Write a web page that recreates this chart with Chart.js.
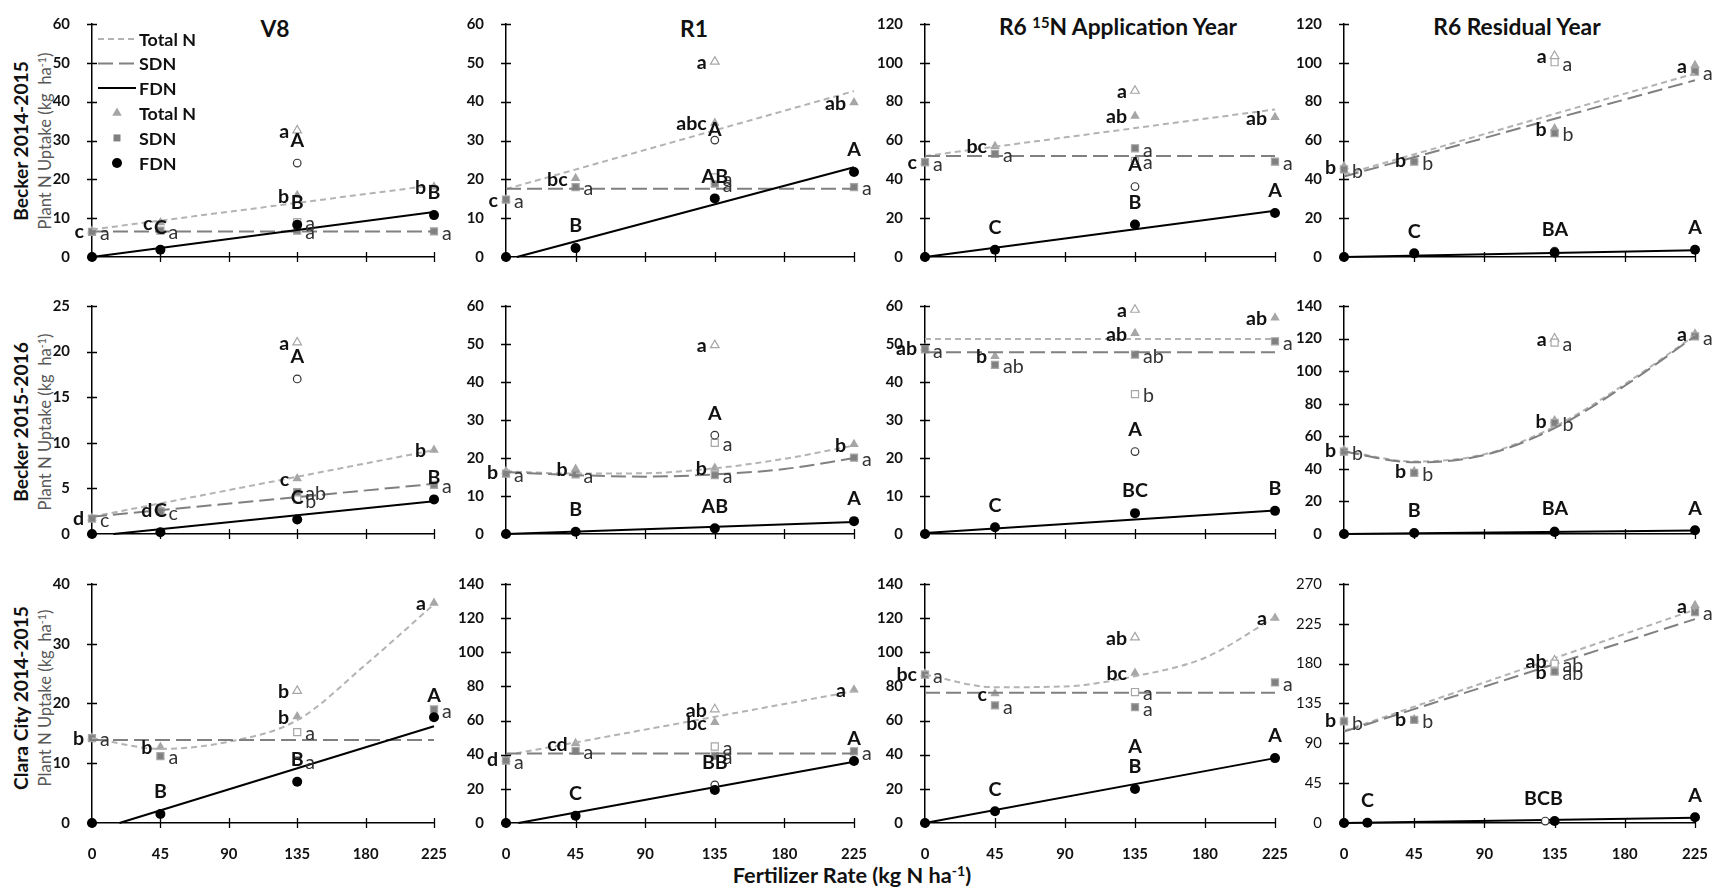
<!DOCTYPE html>
<html>
<head>
<meta charset="utf-8">
<title>Plant N uptake</title>
<script src="https://cdn.jsdelivr.net/npm/chart.js@4.4.1/dist/chart.umd.min.js"></script>
<style>
  body { margin: 0; background: #fff; font-family: Lato, "Open Sans", sans-serif; color: #111; }
  #page { position: relative; width: 1718px; height: 890px; overflow: hidden; }
  #page canvas { position: absolute; }
  .txt { position: absolute; white-space: nowrap; transform: translate(-50%, -50%); line-height: 1; }
  .title { font-weight: 700; font-size: 20px; }
  .row { font-weight: 700; font-size: 20px; transform: translate(-50%, -50%) rotate(-90deg); }
  .unit { font-size: 17px; color: #595959; transform: translate(-50%, -50%) rotate(-90deg); }
  .xtitle { font-weight: 700; font-size: 21px; }
  .sup { font-size: 0.65em; position: relative; top: -0.5em; }
</style>
</head>
<body>
<div id="page">
  <div class="txt title" style="left:275px;top:28px">V8</div>
  <div class="txt title" style="left:694px;top:28px">R1</div>
  <div class="txt title" style="left:1118px;top:26px">R6 <span class="sup">15</span>N Application Year</div>
  <div class="txt title" style="left:1517px;top:26px">R6 Residual Year</div>

  <div class="txt row" style="left:21px;top:141px">Becker 2014-2015</div>
  <div class="txt unit" style="left:45px;top:141px">Plant N Uptake (kg&nbsp; ha<span class="sup">-1</span>)</div>
  <div class="txt row" style="left:21px;top:422px">Becker 2015-2016</div>
  <div class="txt unit" style="left:45px;top:422px">Plant N Uptake (kg&nbsp; ha<span class="sup">-1</span>)</div>
  <div class="txt row" style="left:21px;top:698px">Clara City 2014-2015</div>
  <div class="txt unit" style="left:45px;top:698px">Plant N Uptake (kg&nbsp; ha<span class="sup">-1</span>)</div>

  <div class="txt xtitle" style="left:852px;top:876px">Fertilizer Rate (kg N ha<span class="sup">-1</span>)</div>
</div>

<script>
/* fertilizer rates (kg N/ha) */
const rates = [0, 45, 135, 225];
const xTickStep = 45;

/* ---- Becker 2014-2015 ---- */
// V8
const b1V8Total = [6.8, 8.9, 15.9, 18.1];
const b1V8Sdn = [6.5, 6.8, 6.8, 6.6];
const b1V8Fdn = [0, 1.9, 8.3, 10.8];
const b1V8Open = [32.6, 9.0, 24.2];          // open triangle, open square, open circle at 135
const b1V8TotalTrend = [[0, 7.1], [225, 18.5]];
const b1V8SdnTrend = [[0, 6.6], [225, 6.6]];
const b1V8FdnTrend = [[0, 0], [225, 11.6]];
const b1V8Letters = [['c', 'c', 'b', 'b'], ['a', 'a', 'a', 'a'], ['', 'C', 'B', 'B'], ['a', 'a', 'A']];
// R1
const b1R1Total = [14.8, 20.3, 34.5, 39.8];
const b1R1Sdn = [14.8, 18.0, 18.9, 18.0];
const b1R1Fdn = [0, 2.3, 15.1, 21.9];
const b1R1Open = [50.3, 20.5, 30.1];
const b1R1TotalTrend = [[0, 17.5], [225, 42.7]];
const b1R1SdnTrend = [[0, 17.6], [225, 17.6]];
const b1R1FdnTrend = [[7, 0], [225, 23.1]];
const b1R1Letters = [['c', 'bc', 'abc', 'ab'], ['a', 'a', 'a', 'a'], ['', 'B', 'AB', 'A'], ['a', 'a', 'A']];
// R6 application year
const b1R6Total = [49, 57.1, 72.6, 72.0];
const b1R6Sdn = [48.8, 53.1, 56.0, 49.1];
const b1R6Fdn = [0, 3.8, 16.8, 22.7];
const b1R6Open = [85.6, 49.5, 36.3];
const b1R6TotalTrend = [[0, 52], [225, 76]];
const b1R6SdnTrend = [[0, 52], [225, 52]];
const b1R6FdnTrend = [[0, 0], [225, 23.8]];
const b1R6Letters = [['c', 'bc', 'ab', 'ab'], ['a', 'a', 'a', 'a'], ['', 'C', 'B', 'A'], ['a', 'a', 'A']];
// R6 residual year
const b1ResTotal = [46.7, 50.2, 66.2, 98.7];
const b1ResSdn = [45.1, 49.1, 63.8, 95.5];
const b1ResFdn = [0, 1.9, 2.2, 3.8];
const b1ResOpen = [103.5, 100.3, 3.0];
const b1ResTotalTrend = [[0, 42.5], [225, 94.5]];
const b1ResSdnTrend = [[0, 41.5], [225, 91]];
const b1ResFdnTrend = [[0, 0], [225, 3.5]];
const b1ResLetters = [['b', 'b', 'b', 'a'], ['b', 'b', 'b', 'a'], ['', 'C', 'A', 'A'], ['a', 'a', 'B']];

/* ---- Becker 2015-2016 ---- */
const b2V8Total = [1.8, 2.7, 6.1, 9.2];
const b2V8Sdn = [1.7, 2.5, 4.6, 5.4];
const b2V8Fdn = [0, 0.2, 1.6, 3.8];
const b2V8Open = [21.0, 3.8, 17.0];
const b2V8TotalTrend = [[0, 1.9], [225, 9.2]];
const b2V8SdnTrend = [[0, 1.9], [225, 5.5]];
const b2V8FdnTrend = [[14, 0], [225, 3.6]];
const b2V8Letters = [['d', 'd', 'c', 'b'], ['c', 'c', 'ab', 'a'], ['', 'C', 'C', 'B'], ['a', 'b', 'A']];

const b2R1Total = [16.5, 17.1, 17.4, 23.6];
const b2R1Sdn = [15.9, 15.7, 15.5, 20.1];
const b2R1Fdn = [0, 0.6, 1.5, 3.4];
const b2R1Open = [49.7, 24.0, 26.0];
const b2R1TotalTrend = [[0, 16.5], [45, 15.9], [90, 16.0], [135, 17.3], [180, 19.8], [225, 23.3]];
const b2R1SdnTrend = [[0, 16.3], [45, 15.5], [90, 15.1], [135, 15.7], [180, 17.1], [225, 20.0]];
const b2R1FdnTrend = [[0, 0], [225, 3.2]];
const b2R1Letters = [['b', 'b', 'b', 'b'], ['a', 'a', 'a', 'a'], ['', 'B', 'AB', 'A'], ['a', 'a', 'A']];

const b2R6Total = [49, 46.8, 52.8, 56.9];
const b2R6Sdn = [48.6, 44.5, 47.2, 50.7];
const b2R6Fdn = [0, 1.8, 5.5, 6.1];
const b2R6Open = [59.0, 36.8, 21.7];
const b2R6TotalTrend = [[0, 51.3], [225, 51.3]];
const b2R6SdnTrend = [[0, 47.8], [225, 47.8]];
const b2R6FdnTrend = [[0, 0.3], [225, 6.2]];
const b2R6Letters = [['ab', 'b', 'ab', 'ab'], ['a', 'ab', 'ab', 'a'], ['', 'C', 'BC', 'B'], ['a', 'b', 'A']];

const b2ResTotal = [51.6, 38.6, 69.7, 123];
const b2ResSdn = [50.6, 37.6, 68.2, 121.3];
const b2ResFdn = [0, 0.6, 1.3, 2.3];
const b2ResOpen = [120, 117.5, 1.9];
const b2ResTotalTrend = [[0, 51], [45, 44.5], [90, 49], [135, 66], [180, 92], [225, 122]];
const b2ResSdnTrend = [[0, 50.6], [45, 44], [90, 48.5], [135, 65], [180, 91], [225, 121.5]];
const b2ResFdnTrend = [[0, 0], [225, 2.2]];
const b2ResLetters = [['b', 'b', 'b', 'a'], ['b', 'b', 'b', 'a'], ['', 'B', 'A', 'A'], ['a', 'a', 'B']];

/* ---- Clara City 2014-2015 ---- */
const ccV8Total = [14.3, 12.7, 17.8, 36.8];
const ccV8Sdn = [14.2, 11.2, 10.5, 19.0];
const ccV8Fdn = [0, 1.5, 6.9, 17.7];
const ccV8Open = [22.1, 15.2, 10.3];
const ccV8TotalTrend = [[0, 14.2], [45, 12.4], [90, 13.6], [135, 17.2], [180, 26.5], [225, 36.6]];
const ccV8SdnTrend = [[0, 13.9], [225, 13.9]];
const ccV8FdnTrend = [[18, 0], [225, 16.2]];
const ccV8Letters = [['b', 'b', 'b', 'a'], ['a', 'a', 'a', 'a'], ['', 'B', 'B', 'A'], ['b', 'a', '']];

const ccR1Total = [37.5, 46.7, 59.0, 78.1];
const ccR1Sdn = [36.5, 42.2, 39.3, 42.0];
const ccR1Fdn = [0, 4.2, 19.3, 36.3];
const ccR1Open = [66.6, 44.8, 22.3];
const ccR1TotalTrend = [[0, 39.7], [225, 77.2]];
const ccR1SdnTrend = [[0, 40.7], [225, 40.7]];
const ccR1FdnTrend = [[8, 0], [225, 35.9]];
const ccR1Letters = [['d', 'cd', 'bc', 'a'], ['a', 'a', 'a', 'a'], ['', 'C', 'B', 'A'], ['ab', 'a', 'B']];

const ccR6Total = [87.5, 75.8, 87.9, 120.1];
const ccR6Sdn = [86.9, 68.9, 67.8, 82.3];
const ccR6Fdn = [0, 6.9, 19.9, 38.0];
const ccR6Open = [108.7, 76.7, 32.0];
const ccR6TotalTrend = [[0, 86.9], [45, 79.5], [90, 80], [135, 86], [180, 96.8], [225, 120.5]];
const ccR6SdnTrend = [[0, 76.3], [225, 76.3]];
const ccR6FdnTrend = [[0, 0], [225, 38]];
const ccR6Letters = [['bc', 'c', 'bc', 'a'], ['a', 'a', 'a', 'a'], ['', 'C', 'B', 'A'], ['ab', 'a', 'A']];

const ccResTotal = [116.6, 117.3, 171, 245.8];
const ccResSdn = [114.8, 116.6, 171, 238.3];
const ccResFdnX = [0, 15, 135, 225];
const ccResFdn = [0, 0.3, 2.2, 6.5];
const ccResOpenX = [135, 135, 129];
const ccResOpen = [183.5, 180, 2.2];
const ccResTotalTrend = [[0, 104], [225, 241]];
const ccResSdnTrend = [[0, 103.2], [225, 230.3]];
const ccResFdnTrend = [[0, 0], [225, 5.8]];
const ccResLetters = [['b', 'b', 'b', 'a'], ['b', 'b', 'ab', 'a'], ['', 'C', 'B', 'A'], ['ab', 'ab', 'BC']];

/* panel setup */
const panels = [
  { row: 0, col: 0, yMax: 60, step: 10, total: b1V8Total, sdn: b1V8Sdn, fdn: b1V8Fdn, open: b1V8Open,
    totalTrend: b1V8TotalTrend, sdnTrend: b1V8SdnTrend, fdnTrend: b1V8FdnTrend, letters: b1V8Letters, legend: true },
  { row: 0, col: 1, yMax: 60, step: 10, total: b1R1Total, sdn: b1R1Sdn, fdn: b1R1Fdn, open: b1R1Open,
    totalTrend: b1R1TotalTrend, sdnTrend: b1R1SdnTrend, fdnTrend: b1R1FdnTrend, letters: b1R1Letters, openCircDy: 10 },
  { row: 0, col: 2, yMax: 120, step: 20, total: b1R6Total, sdn: b1R6Sdn, fdn: b1R6Fdn, open: b1R6Open,
    totalTrend: b1R6TotalTrend, sdnTrend: b1R6SdnTrend, fdnTrend: b1R6FdnTrend, letters: b1R6Letters },
  { row: 0, col: 3, yMax: 120, step: 20, total: b1ResTotal, sdn: b1ResSdn, fdn: b1ResFdn, open: b1ResOpen,
    totalTrend: b1ResTotalTrend, sdnTrend: b1ResSdnTrend, fdnTrend: b1ResFdnTrend, letters: b1ResLetters },

  { row: 1, col: 0, yMax: 25, step: 5, total: b2V8Total, sdn: b2V8Sdn, fdn: b2V8Fdn, open: b2V8Open,
    totalTrend: b2V8TotalTrend, sdnTrend: b2V8SdnTrend, fdnTrend: b2V8FdnTrend, letters: b2V8Letters },
  { row: 1, col: 1, yMax: 60, step: 10, total: b2R1Total, sdn: b2R1Sdn, fdn: b2R1Fdn, open: b2R1Open,
    totalTrend: b2R1TotalTrend, sdnTrend: b2R1SdnTrend, fdnTrend: b2R1FdnTrend, letters: b2R1Letters },
  { row: 1, col: 2, yMax: 60, step: 10, total: b2R6Total, sdn: b2R6Sdn, fdn: b2R6Fdn, open: b2R6Open,
    totalTrend: b2R6TotalTrend, sdnTrend: b2R6SdnTrend, fdnTrend: b2R6FdnTrend, letters: b2R6Letters },
  { row: 1, col: 3, yMax: 140, step: 20, total: b2ResTotal, sdn: b2ResSdn, fdn: b2ResFdn, open: b2ResOpen,
    totalTrend: b2ResTotalTrend, sdnTrend: b2ResSdnTrend, fdnTrend: b2ResFdnTrend, letters: b2ResLetters },

  { row: 2, col: 0, yMax: 40, step: 10, total: ccV8Total, sdn: ccV8Sdn, fdn: ccV8Fdn, open: ccV8Open,
    totalTrend: ccV8TotalTrend, sdnTrend: ccV8SdnTrend, fdnTrend: ccV8FdnTrend, letters: ccV8Letters },
  { row: 2, col: 1, yMax: 140, step: 20, total: ccR1Total, sdn: ccR1Sdn, fdn: ccR1Fdn, open: ccR1Open,
    totalTrend: ccR1TotalTrend, sdnTrend: ccR1SdnTrend, fdnTrend: ccR1FdnTrend, letters: ccR1Letters },
  { row: 2, col: 2, yMax: 140, step: 20, total: ccR6Total, sdn: ccR6Sdn, fdn: ccR6Fdn, open: ccR6Open,
    totalTrend: ccR6TotalTrend, sdnTrend: ccR6SdnTrend, fdnTrend: ccR6FdnTrend, letters: ccR6Letters },
  { row: 2, col: 3, yMax: 270, step: 45, total: ccResTotal, sdn: ccResSdn, fdn: ccResFdn, fdnX: ccResFdnX,
    open: ccResOpen, openX: ccResOpenX, totalTrend: ccResTotalTrend, sdnTrend: ccResSdnTrend,
    fdnTrend: ccResFdnTrend, letters: ccResLetters, yThin: true }
];

// plot-area edges in page pixels
const colLeft = [92, 506, 925, 1344];
const colRight = [434, 854, 1275, 1695];
const rowTop = [15, 297, 575];
const rowBottom = [266, 543, 823];

const FONT = 'Lato, "Open Sans", sans-serif';
const page = document.getElementById('page');

// size fonts so the text runs as wide as in the original figure
const mctx = document.createElement('canvas').getContext('2d');
function fitSize(text, weight, target) {
  mctx.font = `${weight} 100px ${FONT}`;
  return Math.round(1000 * target / mctx.measureText(text).width) / 10;
}
const TITLE_PX = fitSize('R6 Residual Year', 'bold', 168);
const ROW_PX = fitSize('Becker 2014-2015', 'bold', 160);
const UNIT_PX = fitSize('Plant N Uptake (kg  ha-1)', 'normal', 182);
const XTITLE_PX = fitSize('Fertilizer Rate (kg N ha-1)', 'bold', 246);
const LEGEND_PX = fitSize('Total N', 'bold', 57);
const LETTER_PX = fitSize('abc', 'bold', 30.5);
const TICK_PX = fitSize('120', 'bold', 26);

document.querySelectorAll('.title').forEach(el => { el.style.fontSize = TITLE_PX + 'px'; });
document.querySelectorAll('.row').forEach(el => { el.style.fontSize = ROW_PX + 'px'; });
document.querySelectorAll('.unit').forEach(el => { el.style.fontSize = UNIT_PX + 'px'; });
document.querySelector('.xtitle').style.fontSize = XTITLE_PX + 'px';

const pts = (xs, ys) => ys.map((v, i) => ({ x: xs[i], y: v }));
const pairs = t => t.map(([x, y]) => ({ x, y }));

// cross tick marks like the original
const tickMarks = {
  id: 'tickMarks',
  afterDatasetsDraw(chart) {
    const { ctx, chartArea: a, scales: { x, y } } = chart;
    ctx.save();
    ctx.strokeStyle = '#000';
    ctx.lineWidth = 1.3;
    ctx.beginPath();
    y.ticks.forEach(t => {
      const py = Math.round(y.getPixelForValue(t.value)) + 0.5;
      ctx.moveTo(a.left - 5, py);
      ctx.lineTo(a.left + 5, py);
    });
    x.ticks.forEach(t => {
      const px = Math.round(x.getPixelForValue(t.value)) + 0.5;
      ctx.moveTo(px, a.bottom - 5);
      ctx.lineTo(px, a.bottom + 5);
    });
    ctx.stroke();
    ctx.restore();
  }
};

function letterPlugin(p) {
  return {
    id: 'letters',
    afterDraw(chart) {
      const { ctx, scales: { x, y } } = chart;
      const [tl, sl, fl, ol] = p.letters;
      const fx = p.fdnX || rates;
      const ox = p.openX || [135, 135, 135];
      const bold = `bold ${LETTER_PX}px ${FONT}`;
      const reg = `${LETTER_PX}px ${FONT}`;
      ctx.save();
      ctx.textBaseline = 'middle';

      const leftOf = (txt, xv, yv) => {
        ctx.font = bold; ctx.fillStyle = '#111'; ctx.textAlign = 'right';
        ctx.fillText(txt, x.getPixelForValue(xv) - 8, y.getPixelForValue(yv) + 1);
      };
      const rightOf = (txt, xv, yv) => {
        ctx.font = reg; ctx.fillStyle = '#333'; ctx.textAlign = 'left';
        ctx.fillText(txt, x.getPixelForValue(xv) + 8, y.getPixelForValue(yv) + 2);
      };

      rates.forEach((r, i) => {
        if (tl[i]) leftOf(tl[i], r, p.total[i]);
        if (sl[i]) rightOf(sl[i], r, p.sdn[i]);
      });
      if (ol[0]) leftOf(ol[0], ox[0], p.open[0]);
      if (ol[1]) rightOf(ol[1], ox[1], p.open[1]);

      // FDN letters sit above the circles
      ctx.font = bold;
      ctx.fillStyle = '#111';
      const cx = x.getPixelForValue(ox[2]);
      const cy = y.getPixelForValue(p.open[2]);
      let paired = false;
      fx.forEach((r, i) => {
        if (!fl[i]) return;
        const px = x.getPixelForValue(r);
        const py = y.getPixelForValue(p.fdn[i]);
        if (ol[2] && Math.abs(px - cx) < 15 && Math.abs(py - cy) < 12) {
          paired = true;
          const mx = (px + cx) / 2;
          const my = Math.min(py, cy) - 22;
          ctx.textAlign = 'right';
          ctx.fillText(ol[2], mx, my);
          ctx.textAlign = 'left';
          ctx.fillText(fl[i], mx, my);
        } else {
          ctx.textAlign = 'center';
          ctx.fillText(fl[i], px, py - 22);
        }
      });
      if (ol[2] && !paired) {
        ctx.textAlign = 'center';
        ctx.fillText(ol[2], cx, cy - (p.openCircDy || 22));
      }
      ctx.restore();
    }
  };
}

const legendLabels = ['Total N', 'SDN', 'FDN', 'Total N', 'SDN', 'FDN'];
const legendPlugin = {
  id: 'panelLegend',
  afterDraw(chart) {
    const { ctx, chartArea: a } = chart;
    const rowsY = [15, 39.5, 64, 89, 114, 139];
    ctx.save();
    ctx.lineWidth = 2;
    // line samples
    const lineStyles = [['#b3b3b3', [6, 4]], ['#808080', [15, 6]], ['#000', []]];
    lineStyles.forEach(([c, d], i) => {
      ctx.strokeStyle = c;
      ctx.setLineDash(d);
      ctx.beginPath();
      ctx.moveTo(a.left + 6, a.top + rowsY[i]);
      ctx.lineTo(a.left + 44, a.top + rowsY[i]);
      ctx.stroke();
    });
    ctx.setLineDash([]);
    // marker samples
    const mx = a.left + 25;
    let my = a.top + rowsY[3];
    ctx.fillStyle = '#a6a6a6';
    ctx.beginPath();
    ctx.moveTo(mx, my - 5.5);
    ctx.lineTo(mx + 4.8, my + 2.8);
    ctx.lineTo(mx - 4.8, my + 2.8);
    ctx.closePath();
    ctx.fill();
    my = a.top + rowsY[4];
    ctx.fillStyle = '#808080';
    ctx.fillRect(mx - 3.5, my - 3.5, 7, 7);
    my = a.top + rowsY[5];
    ctx.fillStyle = '#000';
    ctx.beginPath();
    ctx.arc(mx, my, 5, 0, Math.PI * 2);
    ctx.fill();
    // labels
    ctx.font = `bold ${LEGEND_PX}px ${FONT}`;
    ctx.fillStyle = '#111';
    ctx.textAlign = 'left';
    ctx.textBaseline = 'middle';
    legendLabels.forEach((t, i) => ctx.fillText(t, a.left + 47, a.top + rowsY[i] + 1));
    ctx.restore();
  }
};

panels.forEach(p => {
  const bottomRow = p.row === 2;
  const padL = 60, padR = 50, padT = 14, padB = bottomRow ? 42 : 14;
  const x0 = colLeft[p.col], x1 = colRight[p.col];
  const y0 = rowTop[p.row], y1 = rowBottom[p.row];

  const canvas = document.createElement('canvas');
  canvas.width = x1 - x0 + padL + padR;
  canvas.height = y1 - y0 + padT + padB;
  canvas.style.left = (x0 - padL) + 'px';
  canvas.style.top = (y0 - padT) + 'px';
  page.appendChild(canvas);

  const ox = p.openX || [135, 135, 135];
  const datasets = [
    { data: pts(p.fdnX || rates, p.fdn), pointStyle: 'circle', pointRadius: 5,
      backgroundColor: '#000', borderColor: '#000', borderWidth: 0 },
    { data: [{ x: ox[2], y: p.open[2] }], pointStyle: 'circle', pointRadius: 3.8,
      backgroundColor: '#fff', borderColor: '#333', borderWidth: 1.2 },
    { data: [{ x: ox[1], y: p.open[1] }], pointStyle: 'rect', pointRadius: 5,
      backgroundColor: '#fff', borderColor: '#a6a6a6', borderWidth: 1.2 },
    { data: [{ x: ox[0], y: p.open[0] }], pointStyle: 'triangle', pointRadius: 5,
      backgroundColor: '#fff', borderColor: '#a6a6a6', borderWidth: 1.2 },
    { data: pairs(p.fdnTrend), showLine: true, pointRadius: 0, borderColor: '#000', borderWidth: 2 },
    { data: pairs(p.sdnTrend), showLine: true, pointRadius: 0, borderColor: '#808080', borderWidth: 2,
      borderDash: [15, 6], cubicInterpolationMode: 'monotone' },
    { data: pairs(p.totalTrend), showLine: true, pointRadius: 0, borderColor: '#b3b3b3', borderWidth: 2,
      borderDash: [6, 4], cubicInterpolationMode: 'monotone' },
    { data: pts(rates, p.sdn), pointStyle: 'rect', pointRadius: 5,
      backgroundColor: '#808080', borderColor: '#a6a6a6', borderWidth: 1.2 },
    { data: pts(rates, p.total), pointStyle: 'triangle', pointRadius: 5.5,
      backgroundColor: '#a6a6a6', borderColor: '#a6a6a6', borderWidth: 0 }
  ].map(d => Object.assign({ clip: false, fill: false }, d));

  const plugins = [tickMarks, letterPlugin(p)];
  if (p.legend) plugins.push(legendPlugin);

  new Chart(canvas, {
    type: 'scatter',
    data: { datasets },
    options: {
      responsive: false,
      animation: false,
      events: [],
      layout: { padding: { left: 0, right: padR, top: padT, bottom: 0 }, autoPadding: false },
      plugins: { legend: { display: false }, tooltip: { enabled: false } },
      scales: {
        x: {
          type: 'linear', min: 0, max: 225,
          afterFit: s => { s.height = padB; },
          grid: { display: false },
          border: { color: '#000', width: 1.5 },
          ticks: { display: bottomRow, stepSize: xTickStep, padding: 14, color: '#111',
            font: { family: FONT, size: TICK_PX, weight: 'bold' } }
        },
        y: {
          min: 0, max: p.yMax,
          afterFit: s => { s.width = padL; },
          grid: { display: false },
          border: { color: '#000', width: 1.5 },
          ticks: { stepSize: p.step, padding: 14, color: '#111',
            font: { family: FONT, size: TICK_PX, weight: p.yThin ? 'normal' : 'bold' } }
        }
      }
    },
    plugins
  });
});
</script>
</body>
</html>
